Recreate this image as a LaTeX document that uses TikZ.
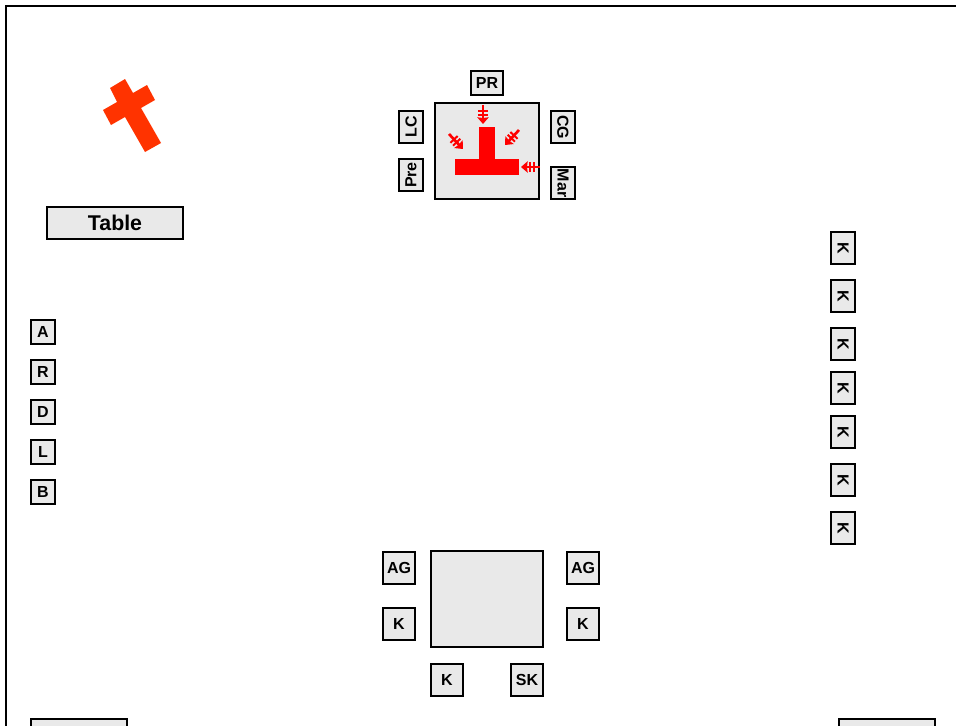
\documentclass[tikz,border=0pt]{standalone}
\usepackage{fontspec}
\setmainfont{Liberation Sans}
\usetikzlibrary{arrows.meta}
\definecolor{roomGrey}{HTML}{E9E9E9}
\definecolor{crossRed}{HTML}{FF3300}

\begin{document}
\begin{tikzpicture}[x=0.75pt,y=-0.75pt,font=\bfseries\fontsize{12}{14}\selectfont,
    tag/.style={draw,line width=1.4pt,fill=roomGrey,inner sep=0pt,
                minimum width=18pt,minimum height=18pt,align=center},
    tagwide/.style={tag,minimum width=24pt},
    tagsquare/.style={tag,minimum width=24pt,minimum height=24pt},
    tagup/.style={tag,minimum width=24pt,rotate=90},
    tagdown/.style={tag,minimum width=24pt,rotate=-90},
    tagtable/.style={tag,minimum width=102pt,minimum height=24pt,
                     font=\bfseries\fontsize{16}{18}\selectfont},
    tagbench/.style={tag,minimum width=72pt,minimum height=24pt},
    redbar/.style={fill=red,inner sep=0pt},
    sign/.style={red,line width=2pt,
                 -{Bar[width=7.5pt,line width=1.5pt,sep=1.4pt]Bar[width=7.5pt,line width=1.5pt,sep=1.2pt]Stealth[length=5pt,width=8.5pt,inset=0.5pt]}}]
  \clip (0,0) rectangle (956,725);
  \useasboundingbox (0,0) rectangle (956,725);
  \draw[line width=1.5pt] (6,6) rectangle (1010,780);

  % cross and table
  \fill[crossRed] (110,88) -- (125,79) -- (133,93) -- (147,85) -- (155,100) -- (141,108)
    -- (161,143) -- (145,152) -- (125,117) -- (111,125) -- (103,110) -- (117,102) -- cycle;
  \node[tagtable] (table) at (115,223) {Table};

  % upper group
  \node[tag,minimum width=78pt,minimum height=72pt] (upper) at (487,151) {};
  \node[redbar,minimum width=12pt,minimum height=24pt] (stem) at (487,143) {};
  \node[redbar,minimum width=48pt,minimum height=12pt] (bar) at (487,167) {};
  \node[tagwide] (pr) at (487,83) {PR};
  \node[tagup] (lc) at (411,127) {LC};
  \node[tagup] (pre) at (411,175) {Pre};
  \node[tagdown] (cg) at (563,127) {CG};
  \node[tagdown] (mar) at (563,183) {Mar};

  \coordinate (s1) at (483,105);
  \coordinate (e1) at (483,124);
  \coordinate (s2) at (449,134);
  \coordinate (e2) at (463,149);
  \coordinate (s3) at (519,130);
  \coordinate (e3) at (505,145);
  \coordinate (s4) at (540,167);
  \coordinate (e4) at (521,167);
  \draw[sign] (s1) -- (e1);
  \draw[sign] (s2) -- (e2);
  \draw[sign] (s3) -- (e3);
  \draw[sign] (s4) -- (e4);

  % left column
  \node[tag] (a) at (43,332) {A};
  \node[tag] (r) at (43,372) {R};
  \node[tag] (d) at (43,412) {D};
  \node[tag] (l) at (43,452) {L};
  \node[tag] (b) at (43,492) {B};

  % right column
  \node[tagdown] (k1) at (843,248) {K};
  \node[tagdown] (k2) at (843,296) {K};
  \node[tagdown] (k3) at (843,344) {K};
  \node[tagdown] (k4) at (843,388) {K};
  \node[tagdown] (k5) at (843,432) {K};
  \node[tagdown] (k6) at (843,480) {K};
  \node[tagdown] (k7) at (843,528) {K};

  % lower group
  \node[tag,minimum width=84pt,minimum height=72pt] (lower) at (487,599) {};
  \node[tagsquare] (ag1) at (399,568) {AG};
  \node[tagsquare] (k8) at (399,624) {K};
  \node[tagsquare] (ag2) at (583,568) {AG};
  \node[tagsquare] (k9) at (583,624) {K};
  \node[tagsquare] (k10) at (447,680) {K};
  \node[tagsquare] (sk) at (527,680) {SK};

  % cut off by the lower edge
  \node[tagbench] (bench1) at (79,735) {};
  \node[tagbench] (bench2) at (887,735) {};
\end{tikzpicture}
\end{document}
